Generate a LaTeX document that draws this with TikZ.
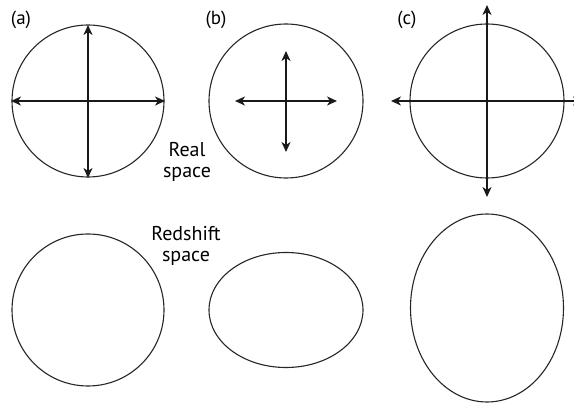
\documentclass[tikz,border=0pt]{standalone}
\usepackage{fontspec}
\setmainfont{PT Sans}
\usetikzlibrary{arrows.meta,shapes.geometric}
\begin{document}
\begin{tikzpicture}[x=1pt,y=-1pt,
  outline/.style={draw=black!85, line width=1.1pt},
  axis/.style={draw=black!90, line width=1.8pt, {Stealth[length=10pt,width=9pt,inset=3pt]}-{Stealth[length=10pt,width=9pt,inset=3pt]}},
  lbl/.style={font=\fontsize{19}{20}\selectfont, inner sep=0pt},
  captxt/.style={font=\fontsize{20}{21}\selectfont, align=center, inner sep=0pt}]
\useasboundingbox (0,0) rectangle (574,403);
% real space
\node[outline, circle, minimum size=152pt, inner sep=0pt] (ca) at (88,101) {};
\node[outline, circle, minimum size=154pt, inner sep=0pt] (cb) at (286,101) {};
\node[outline, circle, minimum size=154pt, inner sep=0pt] (cc) at (487,101) {};
% arrow ends
\coordinate (aT) at (88,25); \coordinate (aB) at (88,178);
\coordinate (aL) at (11,101); \coordinate (aR) at (165,101);
\coordinate (bT) at (286,51); \coordinate (bB) at (286,152);
\coordinate (bL) at (235,101); \coordinate (bR) at (337,101);
\coordinate (cT) at (487,5); \coordinate (cB) at (487,197);
\coordinate (cL) at (391,101); \coordinate (cR) at (583,101);
\draw[axis] (aT) -- (aB);
\draw[axis] (aL) -- (aR);
\draw[axis] (bT) -- (bB);
\draw[axis] (bL) -- (bR);
\draw[axis] (cT) -- (cB);
\begin{scope}
\clip (0,0) rectangle (574,403);
\draw[axis] (cL) -- (cR);
\end{scope}
% labels
\node[lbl] (la) at (21,20) {(a)};
\node[lbl] (lb) at (216,20) {(b)};
\node[lbl] (lc) at (407,20) {(c)};
\node[captxt] (real) at (187,162) {Real\\space};
\node[captxt] (red) at (186,246) {Redshift\\space};
% redshift space
\node[outline, circle, minimum size=152pt, inner sep=0pt] (ra) at (88,310) {};
\node[outline, ellipse, minimum width=154pt, minimum height=115pt, inner sep=0pt] (rb) at (286,310) {};
\node[outline, ellipse, minimum width=153pt, minimum height=188pt, inner sep=0pt] (rc) at (487,308) {};
\end{tikzpicture}
\end{document}
